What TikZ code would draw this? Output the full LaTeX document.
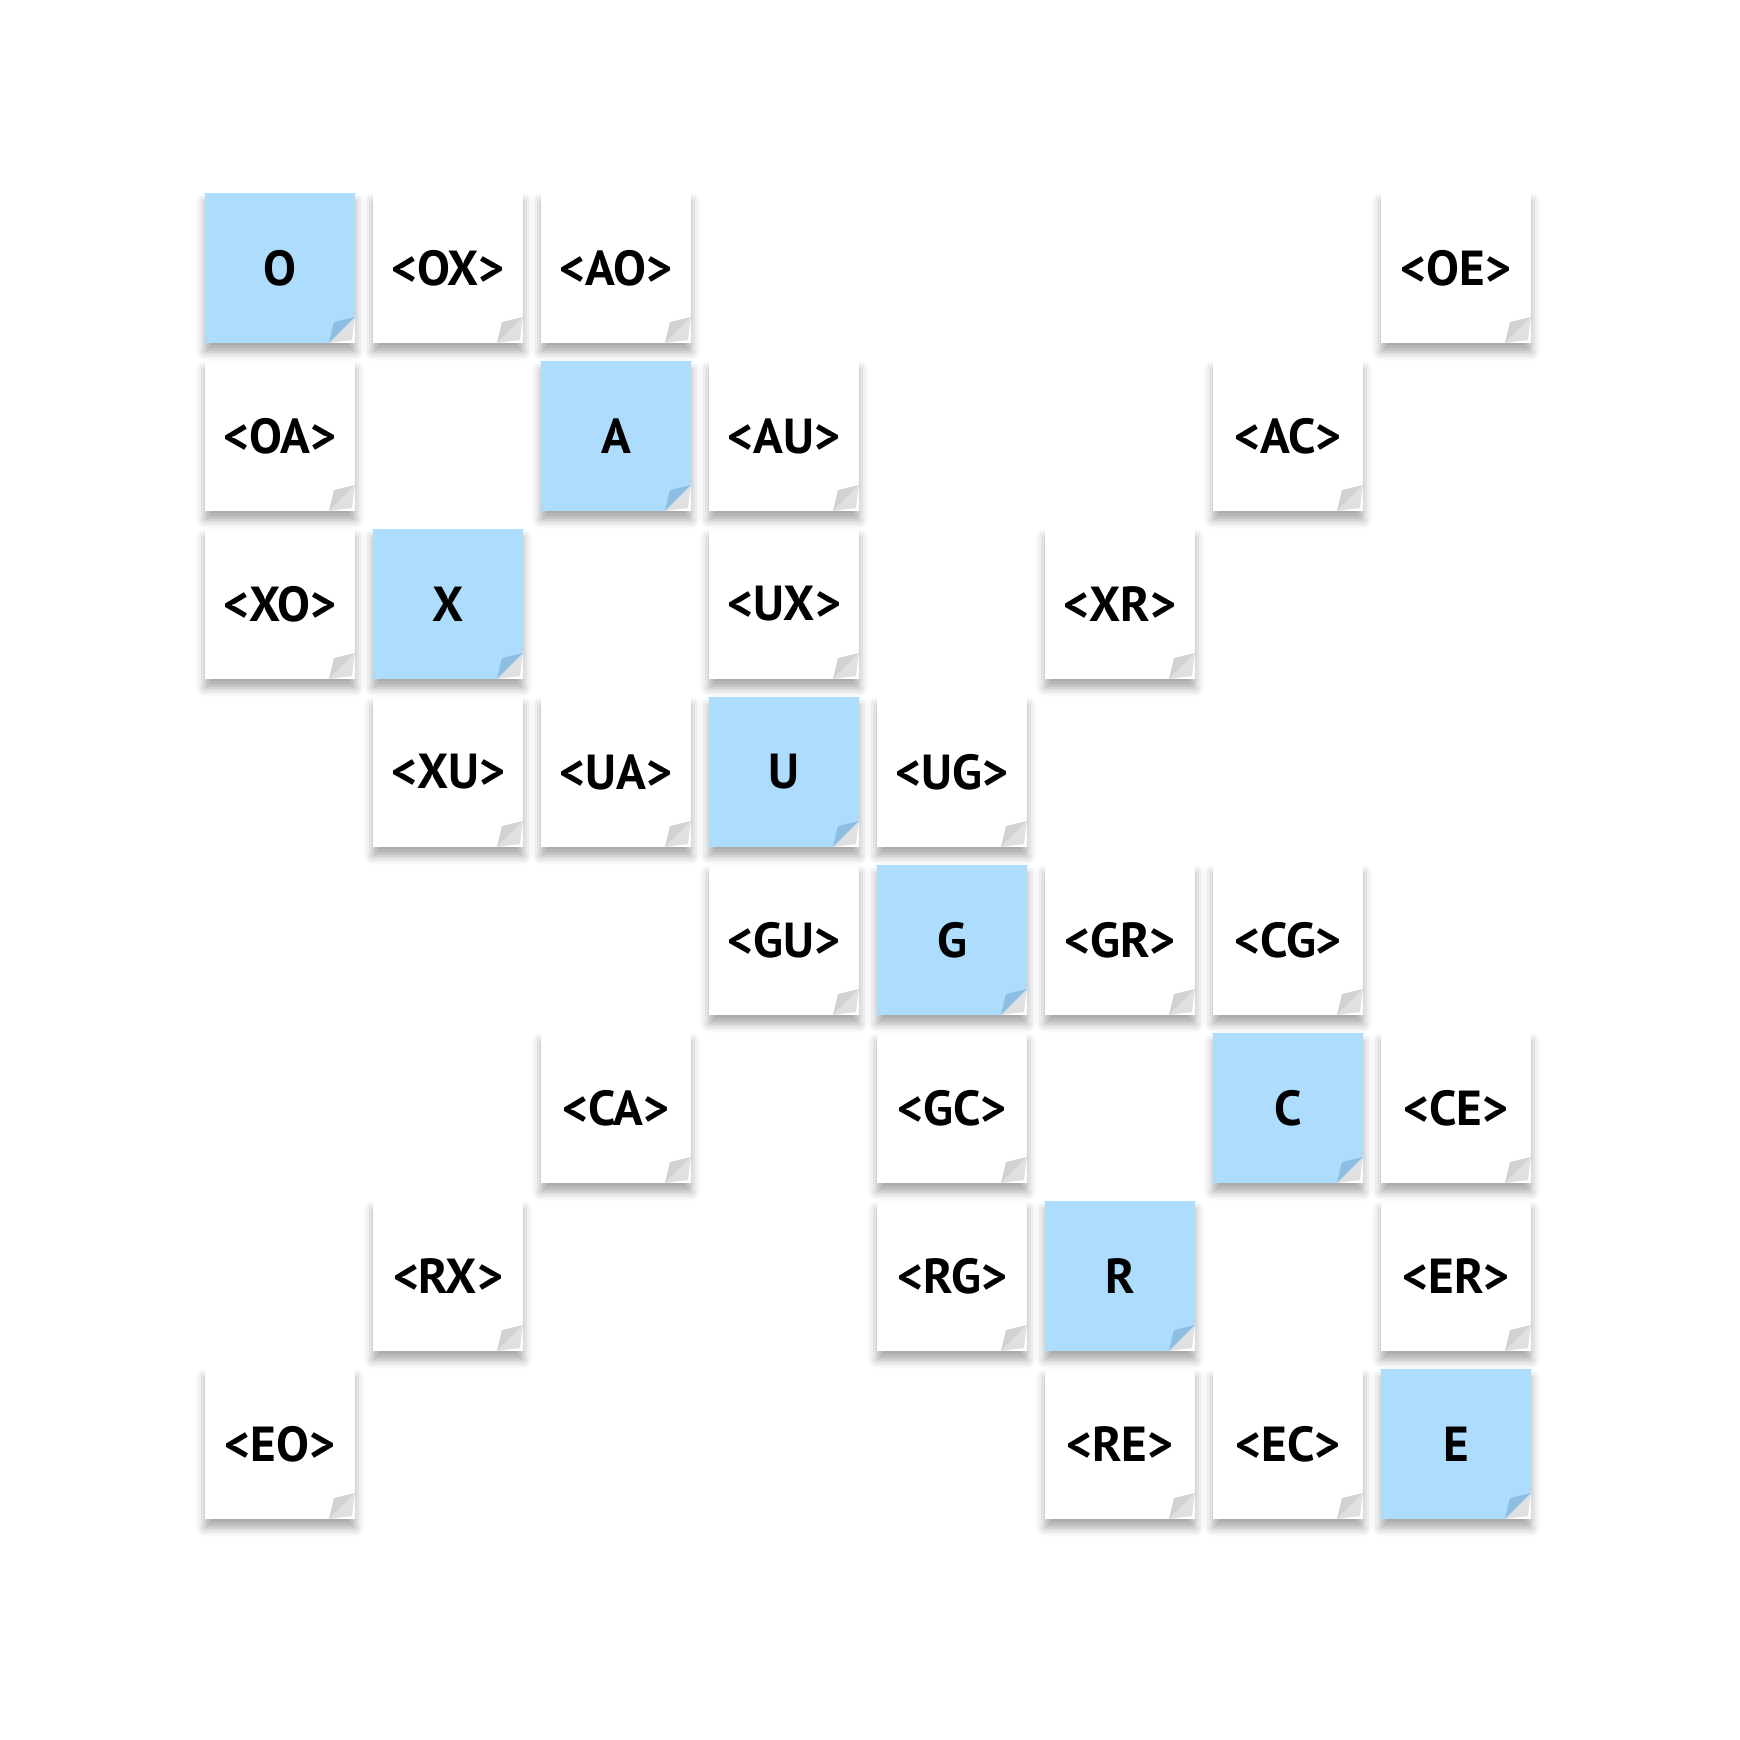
\documentclass[tikz,border=0pt]{standalone}
\usepackage{fontspec}
\setmainfont{PT Sans}
\usepackage{tikz}
\usetikzlibrary{shadows.blur, positioning}
\definecolor{noteblue}{HTML}{ADDCFC}
\definecolor{foldblue}{HTML}{8CBDE2}
\definecolor{foldgray}{HTML}{D2D2D2}
\tikzstyle{note} = [rectangle, minimum width=1.5cm, minimum height=1.5cm, inner sep=0pt, fill=white, font=\fontsize{14}{16}\selectfont\bfseries, blur shadow={shadow xshift=0pt, shadow yshift=-2.5pt, shadow blur radius=2.5pt, shadow opacity=35}, fold color=foldgray]
\tikzstyle{key} = [note, fill=noteblue, fold color=foldblue]
\tikzset{fold color/.style={path picture={
  \fill[white] ([yshift=0.26cm]path picture bounding box.south east) -- (path picture bounding box.south east) -- ([xshift=-0.26cm]path picture bounding box.south east) -- cycle;
  \fill[black!12] ([yshift=0.26cm]path picture bounding box.south east) -- ([shift={(-0.03cm,0.03cm)}]path picture bounding box.south east) -- ([xshift=-0.26cm]path picture bounding box.south east) -- cycle;
  \fill[#1] ([yshift=0.26cm]path picture bounding box.south east) -- ([shift={(-0.21cm,0.21cm)}]path picture bounding box.south east) -- ([xshift=-0.26cm]path picture bounding box.south east) -- cycle;}}}

\begin{document}
\begin{tikzpicture}[x=1.68cm, y=-1.68cm]
  \useasboundingbox (-1.6667,-1.5952) rectangle (8.6905,8.7619);
  % row 0
  \node (O) [key] at (0,0) {O};
  \node (OX) [note] at (1,0) {<OX>};
  \node (AO) [note] at (2,0) {<AO>};
  \node (OE) [note] at (7,0) {<OE>};
  % row 1
  \node (OA) [note] at (0,1) {<OA>};
  \node (A) [key] at (2,1) {A};
  \node (AU) [note] at (3,1) {<AU>};
  \node (AC) [note] at (6,1) {<AC>};
  % row 2
  \node (XO) [note] at (0,2) {<XO>};
  \node (X) [key] at (1,2) {X};
  \node (UX) [note] at (3,2) {<UX>};
  \node (XR) [note] at (5,2) {<XR>};
  % row 3
  \node (XU) [note] at (1,3) {<XU>};
  \node (UA) [note] at (2,3) {<UA>};
  \node (U) [key] at (3,3) {U};
  \node (UG) [note] at (4,3) {<UG>};
  % row 4
  \node (GU) [note] at (3,4) {<GU>};
  \node (G) [key] at (4,4) {G};
  \node (GR) [note] at (5,4) {<GR>};
  \node (CG) [note] at (6,4) {<CG>};
  % row 5
  \node (CA) [note] at (2,5) {<CA>};
  \node (GC) [note] at (4,5) {<GC>};
  \node (C) [key] at (6,5) {C};
  \node (CE) [note] at (7,5) {<CE>};
  % row 6
  \node (RX) [note] at (1,6) {<RX>};
  \node (RG) [note] at (4,6) {<RG>};
  \node (R) [key] at (5,6) {R};
  \node (ER) [note] at (7,6) {<ER>};
  % row 7
  \node (EO) [note] at (0,7) {<EO>};
  \node (RE) [note] at (5,7) {<RE>};
  \node (EC) [note] at (6,7) {<EC>};
  \node (E) [key] at (7,7) {E};
\end{tikzpicture}
\end{document}
